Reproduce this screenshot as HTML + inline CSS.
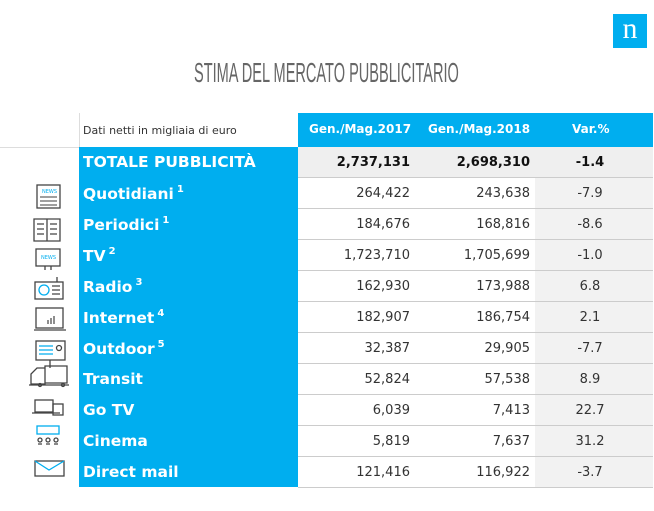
<!DOCTYPE html>
<html><head><meta charset="utf-8"><style>
body{margin:0;width:654px;height:511px;background:#fff;position:relative;overflow:hidden;font-family:"DejaVu Sans","Liberation Sans",sans-serif}
.a{position:absolute}
.logo{left:613px;top:14px;width:34px;height:34px;background:#00aeef;color:#fff;font:30px/30px "Liberation Serif",serif;text-align:center}
.title{left:194px;top:57px;font:normal 28px "Liberation Sans",sans-serif;color:#666;transform:scaleX(0.52);transform-origin:0 0;white-space:nowrap}
.hdr{left:298px;top:113px;width:355px;height:34px;background:#00aeef}
.h{top:122px;color:#fff;font-weight:bold;font-size:12px}
.blue{left:79px;top:147px;width:219px;height:340px;background:#00aeef}
.lab{left:83px;color:#fff;font-weight:bold;font-size:15.5px;white-space:nowrap}
.lab sup{font-size:10px;vertical-align:7px;margin-left:3px}
.num{font-size:13px;color:#333;text-align:right;width:120px}
.var{font-size:13px;color:#333;text-align:center;width:118px;left:531px}
.sep{left:298px;width:355px;height:1px;background:#ccc}
</style></head><body>
<div class="a logo">n</div>
<div class="a title">STIMA DEL MERCATO PUBBLICITARIO</div>
<div class="a" style="left:79px;top:113px;width:1px;height:34px;background:#ddd"></div>
<div class="a" style="left:0;top:147px;width:80px;height:1px;background:#ddd"></div>
<div class="a" style="left:83px;top:124px;font-size:11px;color:#333">Dati netti in migliaia di euro</div>
<div class="a hdr"></div>
<div class="a h" style="left:309px">Gen./Mag.2017</div>
<div class="a h" style="left:428px">Gen./Mag.2018</div>
<div class="a h" style="left:572px">Var.%</div>
<div class="a blue"></div>
<div class="a" style="left:298px;top:147px;width:355px;height:31px;background:#efefef"></div>
<div class="a" style="left:535px;top:178px;width:118px;height:309px;background:#f2f2f2"></div>
<div id="rows"></div>
<svg class="a" style="left:0;top:178px" width="80" height="310" fill="none" stroke="#444" stroke-width="1.3">
<rect x="37" y="7" width="23" height="23"/><text x="42" y="15" font-size="5" fill="#00aeef" stroke="none">NEWS</text><path d="M40 19h17M40 23h17M40 27h17" stroke="#666"/>
<path d="M34 41h13v22h-13zM47 41h13v22h-13zM37 46h7M37 51h7M37 56h7M50 46h7M50 51h7M50 56h7" />
<rect x="36" y="71" width="24" height="17"/><path d="M45 88v4M51 88v4"/><text x="41" y="81" font-size="5" fill="#00aeef" stroke="none">NEWS</text>
<rect x="35" y="104" width="28" height="17"/><circle cx="44" cy="112" r="5" stroke="#00aeef"/><path d="M52 108h8M52 112h8M52 116h8M57 99v5"/>
<rect x="36" y="130" width="27" height="20"/><path d="M34 152h32M48 146v-4M51 146v-6M54 146v-8" stroke-width="1.2"/>
<rect x="36" y="163" width="29" height="19"/><path d="M39 168h14M39 172h14M39 176h14" stroke="#00aeef"/><circle cx="59" cy="170" r="2.5"/><path d="M50 182v8"/>
<path d="M31 206v-10l6-6h8v16zM45 188h22v17h-22zM29 207h40"/><circle cx="40" cy="207" r="1.5"/><circle cx="63" cy="207" r="1.5"/>
<rect x="35" y="222" width="18" height="12"/><path d="M32 235h28"/><rect x="53" y="226" width="10" height="11"/>
<rect x="37" y="248" width="22" height="8" stroke="#00aeef"/><path d="M38 266h4M46 266h4M54 266h4"/><circle cx="40" cy="262" r="2"/><circle cx="48" cy="262" r="2"/><circle cx="56" cy="262" r="2"/>
<rect x="35" y="283" width="29" height="15"/><path d="M35 283l14 9l15-9" stroke="#00aeef"/>
</svg>
<script>
var d=[["TOTALE PUBBLICITÀ","","2,737,131","2,698,310","-1.4",1],["Quotidiani","1","264,422","243,638","-7.9"],["Periodici","1","184,676","168,816","-8.6"],["TV","2","1,723,710","1,705,699","-1.0"],["Radio","3","162,930","173,988","6.8"],["Internet","4","182,907","186,754","2.1"],["Outdoor","5","32,387","29,905","-7.7"],["Transit","","52,824","57,538","8.9"],["Go TV","","6,039","7,413","22.7"],["Cinema","","5,819","7,637","31.2"],["Direct mail","","121,416","116,922","-3.7"]];
var h="";d.forEach(function(r,i){var y=147+i*31;var b=r[5]?"font-weight:bold;color:#111;":"";
h+='<div class="a lab" style="top:'+(y+6)+'px">'+r[0]+(r[1]?'<sup>'+r[1]+'</sup>':'')+'</div>';
h+='<div class="a num" style="left:290px;top:'+(y+8)+'px;'+b+'">'+r[2]+'</div>';
h+='<div class="a num" style="left:410px;top:'+(y+8)+'px;'+b+'">'+r[3]+'</div>';
h+='<div class="a var" style="top:'+(y+8)+'px;'+b+'">'+r[4]+'</div>';
h+='<div class="a sep" style="top:'+(y+30)+'px"></div>';});
document.getElementById("rows").innerHTML=h;
</script>
</body></html>
